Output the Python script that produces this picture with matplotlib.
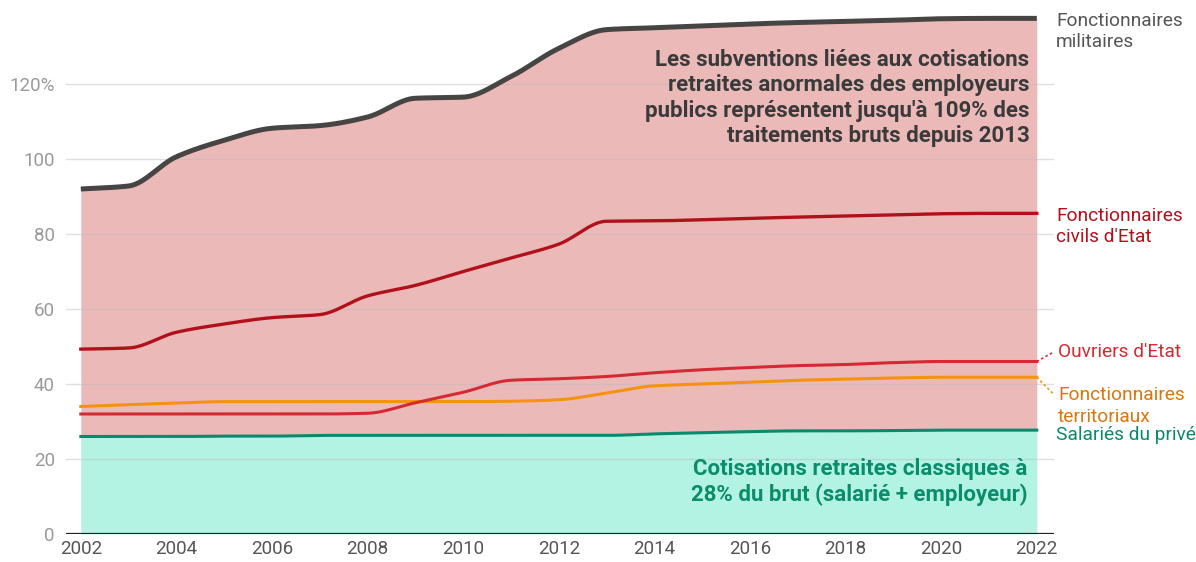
import numpy as np
import matplotlib.pyplot as plt

# Data (% of gross salary)
years = list(range(2002, 2023))
militaires = [92.0, 92.8, 100.6, 105.0, 108.2, 108.9, 111.2, 116.2, 116.5, 122.0, 129.5,
              134.5, 135.0, 135.5, 136.0, 136.4, 136.7, 137.0, 137.4, 137.5, 137.5]
civils = [49.3, 49.6, 53.8, 56.0, 57.7, 58.5, 63.5, 66.3, 70.0, 73.6, 77.3,
          83.4, 83.5, 83.8, 84.2, 84.5, 84.8, 85.1, 85.4, 85.5, 85.5]
ouvriers = [32.0, 32.0, 32.0, 32.0, 32.0, 32.0, 32.2, 35.0, 37.8, 41.0, 41.4,
            42.0, 43.0, 43.8, 44.4, 44.9, 45.2, 45.7, 46.0, 46.0, 46.0]
territoriaux = [34.0, 34.5, 34.9, 35.3, 35.3, 35.3, 35.3, 35.3, 35.3, 35.4, 35.8,
                37.6, 39.5, 40.0, 40.5, 41.0, 41.3, 41.6, 41.8, 41.8, 41.8]
prive = [26.0, 26.0, 26.0, 26.1, 26.1, 26.3, 26.3, 26.3, 26.3, 26.3, 26.3,
         26.3, 26.7, 27.0, 27.3, 27.5, 27.5, 27.6, 27.7, 27.7, 27.7]
yticks = [0, 20, 40, 60, 80, 100, 120]
ytick_labels = ['0', '20', '40', '60', '80', '100', '120%']

plt.rcParams['font.family'] = ['Roboto', 'DejaVu Sans']


def smooth(x, y, n=400):
    # monotone cubic (pchip) curve through the points, for drawing only
    x = np.asarray(x, float)
    y = np.asarray(y, float)
    h = np.diff(x)
    d = np.diff(y) / h
    m = np.zeros_like(y)
    for k in range(1, len(y) - 1):
        if d[k - 1] * d[k] > 0:
            w1 = 2 * h[k] + h[k - 1]
            w2 = h[k] + 2 * h[k - 1]
            m[k] = (w1 + w2) / (w1 / d[k - 1] + w2 / d[k])
    m[0] = d[0]
    m[-1] = d[-1]
    xs = np.linspace(x[0], x[-1], n)
    idx = np.clip(np.searchsorted(x, xs) - 1, 0, len(x) - 2)
    t = (xs - x[idx]) / h[idx]
    h00 = 2 * t**3 - 3 * t**2 + 1
    h10 = t**3 - 2 * t**2 + t
    h01 = -2 * t**3 + 3 * t**2
    h11 = t**3 - t**2
    ys = h00 * y[idx] + h10 * h[idx] * m[idx] + h01 * y[idx + 1] + h11 * h[idx] * m[idx + 1]
    return xs, ys


fig = plt.figure(figsize=(11.96, 5.62), dpi=100)
ax = fig.add_axes([66 / 1196, 28 / 562, (1054 - 66) / 1196, 534 / 562])

xs, mil_s = smooth(years, militaires)
_, civ_s = smooth(years, civils)
_, ouv_s = smooth(years, ouvriers)
_, ter_s = smooth(years, territoriaux)
_, pri_s = smooth(years, prive)

ax.fill_between(xs, pri_s, mil_s, color='#ecb9b9', lw=0, zorder=1)
ax.fill_between(xs, 0, pri_s, color='#b3f3e3', lw=0, zorder=1)

for v in yticks[1:]:
    ax.axhline(v, color='#bbbbbb', alpha=0.45, lw=1, zorder=1.5)
ax.axhline(0, color='#222222', lw=1.6, zorder=3)

ax.plot(xs, pri_s, color='#0a8a6c', lw=2.2, zorder=4)
ax.plot(xs, ter_s, color='#f5920f', lw=2.2, zorder=4)
ax.plot(xs, ouv_s, color='#d42a33', lw=2.2, zorder=4)
ax.plot(xs, civ_s, color='#b0111b', lw=2.4, zorder=4)
ax.plot(xs, mil_s, color='#474444', lw=3.6, zorder=5, solid_capstyle='butt')

ax.set_xlim(2001.69, 2022.36)
ax.set_ylim(0, 142.4)
ax.set_yticks(yticks)
ax.set_yticklabels(ytick_labels)
ax.set_xticks(range(2002, 2023, 2))
ax.tick_params(axis='y', length=0, pad=8, labelsize=13.5, labelcolor='#9a9a9a')
ax.tick_params(axis='x', length=0, pad=4, labelsize=13.5, labelcolor='#555555')
for s in ax.spines.values():
    s.set_visible(False)

# Right-side labels
lx = 2022.4
off = 1.75
lab = dict(fontsize=13.8, ha='left', clip_on=False, linespacing=1.25)
ax.text(lx, militaires[-1] + off, 'Fonctionnaires\nmilitaires', va='top', color='#555555', **lab)
ax.text(lx, civils[-1] + off, "Fonctionnaires\ncivils d'Etat", va='top', color='#b0111b', **lab)
ax.text(lx + 0.05, 48.6, "Ouvriers d'Etat", va='center', color='#d42a33', **lab)
ax.text(lx + 0.05, 37.6 + off, 'Fonctionnaires\nterritoriaux', va='top', color='#d9760d', **lab)
ax.text(lx, 26.5, 'Salariés du privé', va='center', color='#0a8a6c', **lab)

ax.plot([2022.0, 2022.35], [ouvriers[-1], 48.5], ls=(0, (1.5, 1.5)), color='#d42a33',
        lw=1.2, clip_on=False)
ax.plot([2022.0, 2022.35], [territoriaux[-1], 37.3], ls=(0, (1.5, 1.5)), color='#f5920f',
        lw=1.2, clip_on=False)

# Annotations
ax.text(2021.85, 116.3,
        "Les subventions liées aux cotisations\nretraites anormales des employeurs\n"
        "publics représentent jusqu'à 109% des\ntraitements bruts depuis 2013",
        ha='right', va='center', fontsize=16, fontweight='bold', color='#3a3a3a',
        linespacing=1.2, zorder=6)
ax.text(2021.8, 13.9, 'Cotisations retraites classiques à\n28% du brut (salarié + employeur)',
        ha='right', va='center', fontsize=16, fontweight='bold', color='#0b8d6b',
        linespacing=1.2, zorder=6)

fig.savefig('out.png', dpi=100)
